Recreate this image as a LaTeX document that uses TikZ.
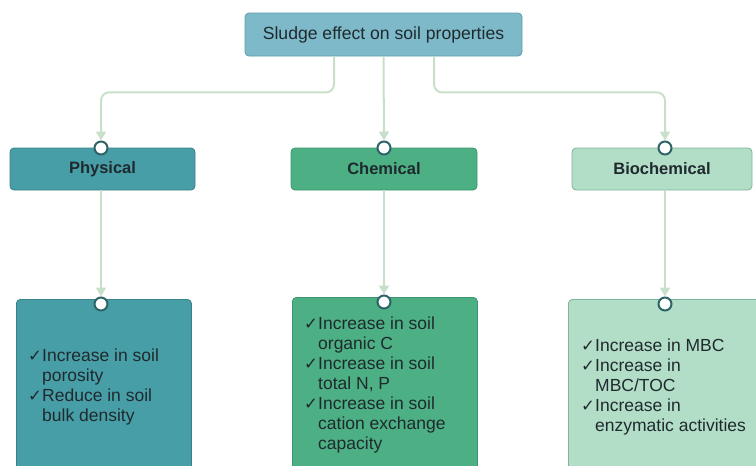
\documentclass[tikz,border=0pt]{standalone}
\usepackage{fontspec}
\setmainfont{Liberation Sans}
\newfontfamily\symfont{DejaVu Sans}
\usetikzlibrary{arrows.meta}
\definecolor{topfill}{HTML}{7DB9C9}
\definecolor{topdraw}{HTML}{5E9DAE}
\definecolor{physfill}{HTML}{479EA6}
\definecolor{physdraw}{HTML}{3B8188}
\definecolor{chemfill}{HTML}{4DAF84}
\definecolor{chemdraw}{HTML}{3C956E}
\definecolor{biofill}{HTML}{B2DDC7}
\definecolor{biodraw}{HTML}{7FB59B}
\definecolor{linec}{HTML}{C8E0CA}
\definecolor{txt}{HTML}{1F2A2E}
\definecolor{dotdraw}{HTML}{2E6468}
\newcommand\chk{\makebox[14pt][l]{\symfont\fontsize{16.5}{16.5}\selectfont ✓}}
\newcommand\hng{\hspace*{14pt}}
\begin{document}
\begin{tikzpicture}[x=1pt,y=-1pt,
  box/.style={draw, line width=0.8pt, rounded corners=4pt, text=txt, inner sep=0pt},
  topbox/.style={box, fill=topfill, draw=topdraw, minimum width=277pt, minimum height=43pt, font=\fontsize{17.6}{20}\selectfont},
  hdr/.style={box, minimum height=42pt, font=\bfseries\fontsize{16.5}{20}\selectfont},
  lowbox/.style={box, minimum height=220pt, anchor=north west},
  list/.style={anchor=north west, align=left, inner sep=0pt, text=txt, font=\fontsize{17.5}{20}\selectfont},
  dot/.style={circle, draw=dotdraw, fill=white, line width=2pt, minimum size=13pt, inner sep=0pt},
  conn/.style={draw=linec, line width=2pt, rounded corners=8pt, -{Triangle[width=10pt,length=9pt]}}]
\useasboundingbox (0,0) rectangle (756,466);
\clip (0,0) rectangle (756,466);
% boxes
\node[topbox] (top) at (383.5,34.5) {Sludge effect on soil properties};
\node[hdr, fill=physfill, draw=physdraw, minimum width=185pt] (phys) at (102.5,169) {Physical};
\node[hdr, fill=chemfill, draw=chemdraw, minimum width=186pt] (chem) at (384,169) {Chemical};
\node[hdr, fill=biofill, draw=biodraw, minimum width=180pt] (bio) at (662,169) {Biochemical};
\node[lowbox, fill=physfill, draw=physdraw, minimum width=175pt] (physl) at (16,299) {};
\node[lowbox, fill=chemfill, draw=chemdraw, minimum width=185pt] (cheml) at (292,297) {};
\node[lowbox, fill=biofill, draw=biodraw, minimum width=220pt] (biol) at (568,299) {};
% dots
\node[dot] (d1) at (101,148) {};
\node[dot] (d2) at (384,148) {};
\node[dot] (d3) at (665,148) {};
\node[dot] (d4) at (101,304) {};
\node[dot] (d5) at (384,302) {};
\node[dot] (d6) at (665,304) {};
% connectors
\draw[conn] ([xshift=-49.5pt]top.south) -- ++(0,36) -| (d1.north);
\draw[conn] (top.south) -- (d2.north);
\draw[conn] ([xshift=50.5pt]top.south) -- ++(0,36) -| (d3.north);
\draw[conn] (d1 |- phys.south) -- (d4.north);
\draw[conn] (d2 |- chem.south) -- (d5.north);
\draw[conn] (d3 |- bio.south) -- (d6.north);
% texts
\node[list] (t1) at (28,349) {\chk Increase in soil\\\hng porosity\\\chk Reduce in soil\\\hng bulk density};
\node[list] (t2) at (304,317) {\chk Increase in soil\\\hng organic C\\\chk Increase in soil\\\hng total N, P\\\chk Increase in soil\\\hng cation exchange\\\hng capacity};
\node[list] (t3) at (581,339) {\chk Increase in MBC\\\chk Increase in\\\hng MBC/TOC\\\chk Increase in\\\hng enzymatic activities};
\end{tikzpicture}
\end{document}
